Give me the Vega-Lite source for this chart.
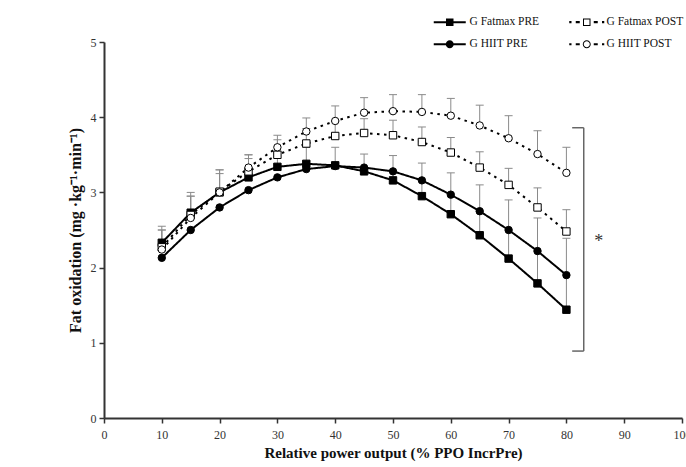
{
  "$schema": "https://vega.github.io/schema/vega-lite/v6.json",
  "autosize": {"type": "none"},
  "padding": {"left": 104, "top": 42, "right": 4, "bottom": 49},
  "width": 578,
  "height": 376,
  "background": "white",
  "config": {
    "view": {"stroke": null},
    "axis": {
      "grid": false,
      "domainColor": "#333",
      "domainWidth": 2,
      "tickColor": "#333",
      "tickWidth": 1.5,
      "tickSize": 5,
      "labelFont": "Liberation Serif",
      "labelFontSize": 12,
      "labelColor": "#333",
      "titleFont": "Liberation Serif",
      "titleFontWeight": "bold",
      "titleColor": "#111"
    }
  },
  "datasets": {
    "main": [
      {"series": "G Fatmax PRE", "group": "Fatmax", "phase": "PRE", "x": 10, "y": 2.33, "hi": 2.55},
      {"series": "G Fatmax PRE", "group": "Fatmax", "phase": "PRE", "x": 15, "y": 2.73, "hi": 3.0},
      {"series": "G Fatmax PRE", "group": "Fatmax", "phase": "PRE", "x": 20, "y": 3.0, "hi": 3.3},
      {"series": "G Fatmax PRE", "group": "Fatmax", "phase": "PRE", "x": 25, "y": 3.2, "hi": 3.5},
      {"series": "G Fatmax PRE", "group": "Fatmax", "phase": "PRE", "x": 30, "y": 3.34, "hi": 3.55},
      {"series": "G Fatmax PRE", "group": "Fatmax", "phase": "PRE", "x": 35, "y": 3.38, "hi": 3.6},
      {"series": "G Fatmax PRE", "group": "Fatmax", "phase": "PRE", "x": 40, "y": 3.36, "hi": 3.6},
      {"series": "G Fatmax PRE", "group": "Fatmax", "phase": "PRE", "x": 45, "y": 3.28, "hi": 3.51},
      {"series": "G Fatmax PRE", "group": "Fatmax", "phase": "PRE", "x": 50, "y": 3.16, "hi": 3.49},
      {"series": "G Fatmax PRE", "group": "Fatmax", "phase": "PRE", "x": 55, "y": 2.95, "hi": 3.39},
      {"series": "G Fatmax PRE", "group": "Fatmax", "phase": "PRE", "x": 60, "y": 2.71, "hi": 3.26},
      {"series": "G Fatmax PRE", "group": "Fatmax", "phase": "PRE", "x": 65, "y": 2.43, "hi": 3.1},
      {"series": "G Fatmax PRE", "group": "Fatmax", "phase": "PRE", "x": 70, "y": 2.12, "hi": 2.9},
      {"series": "G Fatmax PRE", "group": "Fatmax", "phase": "PRE", "x": 75, "y": 1.79, "hi": 2.66},
      {"series": "G Fatmax PRE", "group": "Fatmax", "phase": "PRE", "x": 80, "y": 1.44, "hi": 2.39},
      {"series": "G HIIT PRE", "group": "HIIT", "phase": "PRE", "x": 10, "y": 2.13, "hi": null},
      {"series": "G HIIT PRE", "group": "HIIT", "phase": "PRE", "x": 15, "y": 2.5, "hi": null},
      {"series": "G HIIT PRE", "group": "HIIT", "phase": "PRE", "x": 20, "y": 2.8, "hi": null},
      {"series": "G HIIT PRE", "group": "HIIT", "phase": "PRE", "x": 25, "y": 3.03, "hi": null},
      {"series": "G HIIT PRE", "group": "HIIT", "phase": "PRE", "x": 30, "y": 3.2, "hi": null},
      {"series": "G HIIT PRE", "group": "HIIT", "phase": "PRE", "x": 35, "y": 3.31, "hi": null},
      {"series": "G HIIT PRE", "group": "HIIT", "phase": "PRE", "x": 40, "y": 3.35, "hi": null},
      {"series": "G HIIT PRE", "group": "HIIT", "phase": "PRE", "x": 45, "y": 3.33, "hi": null},
      {"series": "G HIIT PRE", "group": "HIIT", "phase": "PRE", "x": 50, "y": 3.28, "hi": null},
      {"series": "G HIIT PRE", "group": "HIIT", "phase": "PRE", "x": 55, "y": 3.16, "hi": null},
      {"series": "G HIIT PRE", "group": "HIIT", "phase": "PRE", "x": 60, "y": 2.97, "hi": null},
      {"series": "G HIIT PRE", "group": "HIIT", "phase": "PRE", "x": 65, "y": 2.75, "hi": null},
      {"series": "G HIIT PRE", "group": "HIIT", "phase": "PRE", "x": 70, "y": 2.5, "hi": null},
      {"series": "G HIIT PRE", "group": "HIIT", "phase": "PRE", "x": 75, "y": 2.22, "hi": null},
      {"series": "G HIIT PRE", "group": "HIIT", "phase": "PRE", "x": 80, "y": 1.9, "hi": null},
      {"series": "G Fatmax POST", "group": "Fatmax", "phase": "POST", "x": 10, "y": 2.27, "hi": 2.5},
      {"series": "G Fatmax POST", "group": "Fatmax", "phase": "POST", "x": 15, "y": 2.7, "hi": 2.95},
      {"series": "G Fatmax POST", "group": "Fatmax", "phase": "POST", "x": 20, "y": 3.01, "hi": 3.25},
      {"series": "G Fatmax POST", "group": "Fatmax", "phase": "POST", "x": 25, "y": 3.28, "hi": 3.45},
      {"series": "G Fatmax POST", "group": "Fatmax", "phase": "POST", "x": 30, "y": 3.5, "hi": 3.7},
      {"series": "G Fatmax POST", "group": "Fatmax", "phase": "POST", "x": 35, "y": 3.65, "hi": 3.85},
      {"series": "G Fatmax POST", "group": "Fatmax", "phase": "POST", "x": 40, "y": 3.75, "hi": 3.95},
      {"series": "G Fatmax POST", "group": "Fatmax", "phase": "POST", "x": 45, "y": 3.79, "hi": 3.98},
      {"series": "G Fatmax POST", "group": "Fatmax", "phase": "POST", "x": 50, "y": 3.76, "hi": 3.96},
      {"series": "G Fatmax POST", "group": "Fatmax", "phase": "POST", "x": 55, "y": 3.67, "hi": 3.87},
      {"series": "G Fatmax POST", "group": "Fatmax", "phase": "POST", "x": 60, "y": 3.53, "hi": 3.73},
      {"series": "G Fatmax POST", "group": "Fatmax", "phase": "POST", "x": 65, "y": 3.33, "hi": 3.54},
      {"series": "G Fatmax POST", "group": "Fatmax", "phase": "POST", "x": 70, "y": 3.1, "hi": 3.32},
      {"series": "G Fatmax POST", "group": "Fatmax", "phase": "POST", "x": 75, "y": 2.8, "hi": 3.06},
      {"series": "G Fatmax POST", "group": "Fatmax", "phase": "POST", "x": 80, "y": 2.48, "hi": 2.77},
      {"series": "G HIIT POST", "group": "HIIT", "phase": "POST", "x": 10, "y": 2.24, "hi": 2.5},
      {"series": "G HIIT POST", "group": "HIIT", "phase": "POST", "x": 15, "y": 2.66, "hi": 2.95},
      {"series": "G HIIT POST", "group": "HIIT", "phase": "POST", "x": 20, "y": 3.0, "hi": 3.3},
      {"series": "G HIIT POST", "group": "HIIT", "phase": "POST", "x": 25, "y": 3.33, "hi": 3.5},
      {"series": "G HIIT POST", "group": "HIIT", "phase": "POST", "x": 30, "y": 3.6, "hi": 3.76},
      {"series": "G HIIT POST", "group": "HIIT", "phase": "POST", "x": 35, "y": 3.81, "hi": 3.99},
      {"series": "G HIIT POST", "group": "HIIT", "phase": "POST", "x": 40, "y": 3.95, "hi": 4.15},
      {"series": "G HIIT POST", "group": "HIIT", "phase": "POST", "x": 45, "y": 4.06, "hi": 4.26},
      {"series": "G HIIT POST", "group": "HIIT", "phase": "POST", "x": 50, "y": 4.08, "hi": 4.3},
      {"series": "G HIIT POST", "group": "HIIT", "phase": "POST", "x": 55, "y": 4.07, "hi": 4.3},
      {"series": "G HIIT POST", "group": "HIIT", "phase": "POST", "x": 60, "y": 4.02, "hi": 4.25},
      {"series": "G HIIT POST", "group": "HIIT", "phase": "POST", "x": 65, "y": 3.89, "hi": 4.16},
      {"series": "G HIIT POST", "group": "HIIT", "phase": "POST", "x": 70, "y": 3.72, "hi": 4.02},
      {"series": "G HIIT POST", "group": "HIIT", "phase": "POST", "x": 75, "y": 3.51, "hi": 3.82},
      {"series": "G HIIT POST", "group": "HIIT", "phase": "POST", "x": 80, "y": 3.26, "hi": 3.6}
    ],
    "bracket": [
      {"x": 83, "x2": 83, "y": 0.89, "y2": 3.86},
      {"x": 81, "x2": 83, "y": 3.86, "y2": 3.86},
      {"x": 81, "x2": 83, "y": 0.89, "y2": 0.89}
    ],
    "star": [
      {"x": 85.6, "y": 2.34, "label": "*"}
    ]
  },
  "layer": [
    {
      "data": {"name": "main"},
      "transform": [{"filter": "isValid(datum.hi)"}],
      "mark": {"type": "rule", "color": "#8a8a8a", "strokeWidth": 1},
      "encoding": {
        "x": {"field": "x", "type": "quantitative", "scale": {"domain": [0, 100]},
              "axis": {"values": [0, 10, 20, 30, 40, 50, 60, 70, 80, 90, 100], "labelFlush": false, "labelOverlap": false, "labelPadding": 6, "titlePadding": 5, "titleFontSize": 15},
              "title": "Relative power output (% PPO IncrPre)"},
        "y": {"field": "y", "type": "quantitative", "scale": {"domain": [0, 5]},
              "axis": {"values": [0, 0.5, 1, 1.5, 2, 2.5, 3, 3.5, 4, 4.5, 5], "format": "~g", "labelPadding": 3, "titlePadding": 7, "titleFontSize": 16},
              "title": "Fat oxidation (mg ·kg⁻¹·min⁻¹)"},
        "y2": {"field": "hi"}
      }
    },
    {
      "data": {"name": "main"},
      "transform": [{"filter": "isValid(datum.hi)"}],
      "mark": {"type": "tick", "orient": "horizontal", "size": 8, "thickness": 1, "color": "#8a8a8a", "opacity": 1},
      "encoding": {
        "x": {"field": "x", "type": "quantitative", "title": "Relative power output (% PPO IncrPre)"},
        "y": {"field": "hi", "type": "quantitative", "title": "Fat oxidation (mg ·kg⁻¹·min⁻¹)"}
      }
    },
    {
      "data": {"name": "main"},
      "mark": {"type": "line", "color": "black", "strokeWidth": 2},
      "encoding": {
        "x": {"field": "x", "type": "quantitative", "title": "Relative power output (% PPO IncrPre)"},
        "y": {"field": "y", "type": "quantitative", "title": "Fat oxidation (mg ·kg⁻¹·min⁻¹)"},
        "detail": {"field": "series"},
        "strokeDash": {"field": "phase", "type": "nominal", "scale": {"domain": ["PRE", "POST"], "range": [[1, 0], [2.5, 4.5]]}, "legend": null}
      }
    },
    {
      "data": {"name": "main"},
      "mark": {"type": "point", "filled": true, "stroke": "black", "strokeWidth": 1, "size": 55, "opacity": 1},
      "encoding": {
        "x": {"field": "x", "type": "quantitative", "title": "Relative power output (% PPO IncrPre)"},
        "y": {"field": "y", "type": "quantitative", "title": "Fat oxidation (mg ·kg⁻¹·min⁻¹)"},
        "shape": {"field": "group", "type": "nominal", "scale": {"domain": ["Fatmax", "HIIT"], "range": ["square", "circle"]}, "legend": null},
        "fill": {"field": "phase", "type": "nominal", "scale": {"domain": ["PRE", "POST"], "range": ["black", "white"]}, "legend": null}
      }
    },
    {
      "data": {"name": "main"},
      "transform": [{"filter": "datum.x > 1000"}],
      "mark": {"type": "point", "filled": true, "color": "black", "opacity": 1, "strokeWidth": 0},
      "encoding": {
        "x": {"field": "x", "type": "quantitative", "title": "Relative power output (% PPO IncrPre)"},
        "y": {"field": "y", "type": "quantitative", "title": "Fat oxidation (mg ·kg⁻¹·min⁻¹)"},
        "shape": {
          "field": "series", "type": "nominal",
          "scale": {
            "domain": ["G Fatmax PRE", "G HIIT PRE", "G Fatmax POST", "G HIIT POST"],
            "range": [
              "M-3.2,-0.2H3.2V0.2H-3.2ZM-0.75,-0.75H0.75V0.75H-0.75Z",
              "M-3.2,-0.2H3.2V0.2H-3.2ZM-0.8,0A0.8,0.8 0 0,1 0.8,0A0.8,0.8 0 0,1 -0.8,0Z",
              "M-0.75,-0.75H0.75V0.75H-0.75ZM-0.55,-0.55V0.55H0.55V-0.55ZM-3.5,-0.22H-3.05V0.22H-3.5ZM-2.2,-0.22H-1.4V0.22H-2.2ZM1.4,-0.22H2.2V0.22H1.4ZM3.05,-0.22H3.5V0.22H3.05Z",
              "M-0.8,0A0.8,0.8 0 0,1 0.8,0A0.8,0.8 0 0,1 -0.8,0ZM-0.6,0A0.6,0.6 0 0,0 0.6,0A0.6,0.6 0 0,0 -0.6,0ZM-3.5,-0.22H-3.05V0.22H-3.5ZM-2.2,-0.22H-1.4V0.22H-2.2ZM1.4,-0.22H2.2V0.22H1.4ZM3.05,-0.22H3.5V0.22H3.05Z"
            ]
          },
          "legend": {
            "orient": "none", "legendX": 340, "legendY": -26, "columns": 2, "title": null,
            "symbolSize": 100, "symbolStrokeWidth": 0, "symbolFillColor": "black", "symbolOpacity": 1,
            "labelFont": "Liberation Serif", "labelFontSize": 11.5, "labelColor": "#111", "labelOffset": 14,
            "columnPadding": 29, "rowPadding": 9.5
          }
        }
      }
    },
    {
      "data": {"name": "bracket"},
      "mark": {"type": "rule", "color": "#666", "strokeWidth": 1.5},
      "encoding": {
        "x": {"field": "x", "type": "quantitative", "title": "Relative power output (% PPO IncrPre)"},
        "x2": {"field": "x2"},
        "y": {"field": "y", "type": "quantitative", "title": "Fat oxidation (mg ·kg⁻¹·min⁻¹)"},
        "y2": {"field": "y2"}
      }
    },
    {
      "data": {"name": "star"},
      "mark": {"type": "text", "font": "Liberation Serif", "fontSize": 18, "color": "#333", "baseline": "middle", "align": "center"},
      "encoding": {
        "x": {"field": "x", "type": "quantitative", "title": "Relative power output (% PPO IncrPre)"},
        "y": {"field": "y", "type": "quantitative", "title": "Fat oxidation (mg ·kg⁻¹·min⁻¹)"},
        "text": {"field": "label"}
      }
    }
  ],
  "resolve": {"scale": {"shape": "independent"}}
}
